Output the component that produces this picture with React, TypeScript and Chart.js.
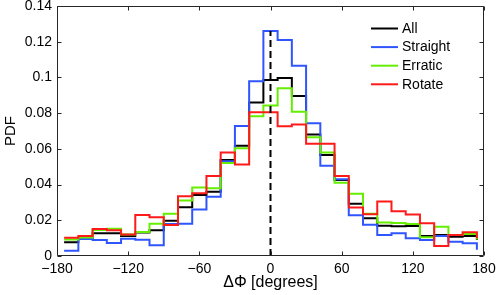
import { useEffect, useRef } from "react";
import { Chart, registerables } from "chart.js";

Chart.register(...registerables);

const binCenters = [-174, -162, -150, -138, -126, -114, -102, -90, -78, -66, -54, -42, -30, -18, -6, 6, 18, 30, 42, 54, 66, 78, 90, 102, 114, 126, 138, 150, 162, 174];

const allPdf = [0.0077, 0.0100, 0.0127, 0.0127, 0.0112, 0.0131, 0.0144, 0.0198, 0.0273, 0.0342, 0.0360, 0.0538, 0.0618, 0.0860, 0.0986, 0.0997, 0.0896, 0.0681, 0.0566, 0.0426, 0.0293, 0.0211, 0.0170, 0.0166, 0.0168, 0.0112, 0.0118, 0.0108, 0.0112, 0.0090];
const straightPdf = [0.0030, 0.0095, 0.0090, 0.0073, 0.0097, 0.0091, 0.0060, 0.0179, 0.0181, 0.0260, 0.0332, 0.0530, 0.0728, 0.0978, 0.1260, 0.1210, 0.1066, 0.0743, 0.0506, 0.0430, 0.0228, 0.0175, 0.0118, 0.0128, 0.0099, 0.0090, 0.0112, 0.0080, 0.0071, 0.0035];
const erraticPdf = [0.0092, 0.0103, 0.0146, 0.0153, 0.0120, 0.0134, 0.0181, 0.0237, 0.0311, 0.0384, 0.0380, 0.0521, 0.0603, 0.0782, 0.0843, 0.0939, 0.0808, 0.0665, 0.0579, 0.0410, 0.0349, 0.0237, 0.0188, 0.0185, 0.0179, 0.0105, 0.0164, 0.0118, 0.0123, 0.0093];
const rotatePdf = [0.0102, 0.0112, 0.0151, 0.0144, 0.0121, 0.0230, 0.0217, 0.0174, 0.0335, 0.0352, 0.0448, 0.0579, 0.0513, 0.0805, 0.0805, 0.0726, 0.0737, 0.0629, 0.0629, 0.0448, 0.0272, 0.0234, 0.0305, 0.0250, 0.0233, 0.0183, 0.0056, 0.0118, 0.0133, 0.0100];

const seriesNames = ["All", "Straight", "Erratic", "Rotate"];
const seriesColors = ["#000000", "#2f55ff", "#66ee00", "#ff1a1a"];
const seriesValues = [allPdf, straightPdf, erraticPdf, rotatePdf];

const zeroLineX = [0, 0];
const zeroLineY = [0, 0.126];

const xTicks = [-180, -120, -60, 0, 60, 120, 180];
const yTicks = [0, 0.02, 0.04, 0.06, 0.08, 0.1, 0.12, 0.14];

const FONT = '"Liberation Sans", Arial, Helvetica, sans-serif';

const fmt = (v: number) => String(+Number(v).toFixed(2)).replace("-", "\u2212");

const framePlugin = {
  id: "matlabFrame",
  afterDatasetsDraw(chart: any) {
    const { ctx, chartArea } = chart;
    const { left, right, top, bottom } = chartArea;
    const xs = chart.scales.x;
    const ys = chart.scales.y;
    ctx.save();
    ctx.strokeStyle = "#262626";
    ctx.lineWidth = 1;
    const L = Math.round(left) + 0.5;
    const R = Math.round(right) - 0.5;
    const T = Math.round(top) + 0.5;
    const B = Math.round(bottom) - 0.5;
    ctx.beginPath();
    ctx.rect(L, T, R - L, B - T);
    ctx.stroke();
    const tl = 4;
    ctx.beginPath();
    xTicks.forEach((v) => {
      const px = Math.round(xs.getPixelForValue(v)) + 0.5;
      ctx.moveTo(px, B);
      ctx.lineTo(px, B - tl);
      ctx.moveTo(px, T);
      ctx.lineTo(px, T + tl);
    });
    yTicks.forEach((v) => {
      const py = Math.round(ys.getPixelForValue(v)) + 0.5;
      ctx.moveTo(L, py);
      ctx.lineTo(L + tl, py);
      ctx.moveTo(R, py);
      ctx.lineTo(R - tl, py);
    });
    ctx.stroke();

    // legend
    ctx.font = `14px ${FONT}`;
    ctx.textBaseline = "middle";
    ctx.textAlign = "left";
    seriesNames.forEach((name, i) => {
      const y = top + 22.5 + i * 18.6;
      ctx.strokeStyle = seriesColors[i];
      ctx.lineWidth = 2;
      ctx.beginPath();
      ctx.moveTo(right - 113, y);
      ctx.lineTo(right - 86, y);
      ctx.stroke();
      ctx.fillStyle = "#000";
      ctx.fillText(name, right - 82, y + 0.5);
    });
    ctx.restore();
  },
};

export default function App() {
  const ref = useRef<HTMLCanvasElement | null>(null);
  useEffect(() => {
    document.body.style.margin = "0";
    const canvas = ref.current;
    if (!canvas) return;
    const datasets: any[] = [
      {
        label: "zero",
        data: zeroLineX.map((x, i) => ({ x, y: zeroLineY[i] })),
        borderColor: "#000",
        borderWidth: 2,
        borderDash: [7, 4],
        pointRadius: 0,
        order: 0,
      },
    ];
    seriesNames.forEach((name, i) => {
      datasets.push({
        label: name,
        data: binCenters.map((x, j) => ({ x, y: seriesValues[i][j] })),
        borderColor: seriesColors[i],
        borderWidth: 2,
        pointRadius: 0,
        stepped: "before",
        fill: false,
        order: 4 - i,
      });
    });
    const chart = new Chart(canvas, {
      type: "line",
      data: { datasets },
      options: {
        animation: false,
        responsive: false,
        maintainAspectRatio: false,
        layout: { padding: { top: 6, right: 14, left: 0, bottom: 0 } },
        plugins: { legend: { display: false }, tooltip: { enabled: false } },
        scales: {
          x: {
            type: "linear",
            min: -180,
            max: 180,
            afterBuildTicks: (s: any) => {
              s.ticks = xTicks.map((v) => ({ value: v }));
            },
            afterFit: (s: any) => {
              s.height = 39;
              s.paddingLeft = 0;
              s.paddingRight = 0;
            },
            ticks: {
              callback: (v: any) => fmt(v),
              font: { family: FONT, size: 14 },
              color: "#000",
              padding: 5,
              maxRotation: 0,
              autoSkip: false,
            },
            grid: { display: false, drawTicks: false },
            border: { display: false },
            title: {
              display: true,
              text: "\u0394\u03a6 [degrees]",
              font: { family: FONT, size: 16 },
              color: "#000",
              padding: { top: 0, bottom: 3 },
            },
          },
          y: {
            type: "linear",
            min: 0,
            max: 0.14,
            afterBuildTicks: (s: any) => {
              s.ticks = yTicks.map((v) => ({ value: v }));
            },
            afterFit: (s: any) => {
              s.width = 57;
              s.paddingTop = 0;
              s.paddingBottom = 0;
            },
            ticks: {
              callback: (v: any) => fmt(v),
              font: { family: FONT, size: 14 },
              color: "#000",
              padding: 5,
              autoSkip: false,
            },
            grid: { display: false, drawTicks: false },
            border: { display: false },
            title: {
              display: true,
              text: "PDF",
              font: { family: FONT, size: 15 },
              color: "#000",
              padding: { top: 2, bottom: 0 },
            },
          },
        },
      },
      plugins: [framePlugin],
    });
    return () => chart.destroy();
  }, []);
  return (
    <div style={{ position: "absolute", left: 0, top: 0 }}>
      <canvas ref={ref} width={498} height={295} style={{ display: "block" }} />
    </div>
  );
}
